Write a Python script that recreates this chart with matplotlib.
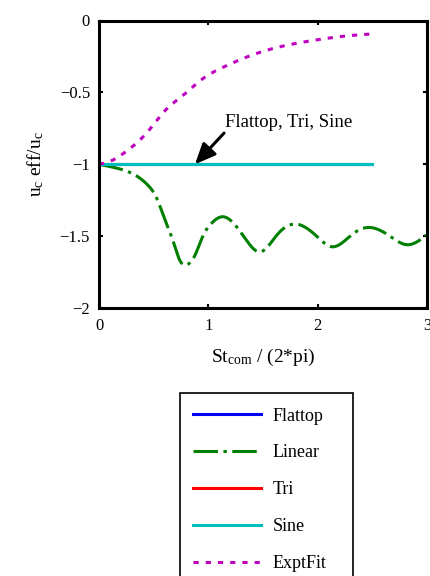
import matplotlib
matplotlib.use('Agg')
import matplotlib.pyplot as plt
from matplotlib.patches import Rectangle
import numpy as np

plt.rcParams['font.family'] = ['Liberation Serif', 'DejaVu Serif']
plt.rcParams['mathtext.fontset'] = 'custom'
plt.rcParams['mathtext.rm'] = 'Liberation Serif'
plt.rcParams['mathtext.it'] = 'Liberation Serif:italic'

# effective velocity ratio vs. reduced frequency
x_flat = [0.0, 2.5]
flattop = [-1.0, -1.0]
tri = [-1.0, -1.0]
sine = [-1.0, -1.0]

x_lin = [0.0, 0.146, 0.33, 0.44, 0.53, 0.60, 0.68, 0.74, 0.80, 0.88, 0.95, 1.03,
         1.13, 1.23, 1.35, 1.47, 1.63, 1.79, 1.99, 2.13, 2.33, 2.48, 2.66, 2.82, 3.0]
linear = [-1.0, -1.024, -1.075, -1.14, -1.24, -1.38, -1.54, -1.67, -1.70, -1.63, -1.50, -1.41,
          -1.365, -1.41, -1.53, -1.61, -1.49, -1.416, -1.50, -1.574, -1.48, -1.44, -1.50, -1.56, -1.49]

x_fit = [0.0, 0.10, 0.25, 0.45, 0.60, 0.77, 0.94, 1.15, 1.40, 1.67, 1.98, 2.28, 2.49]
exptfit = [-1.0, -0.98, -0.91, -0.77, -0.63, -0.52, -0.41, -0.32, -0.24, -0.18, -0.136, -0.106, -0.094]

xticks = [0, 1, 2, 3]
yticks = [-2, -1.5, -1, -0.5, 0]
ytick_labels = ['\u22122', '\u22121.5', '\u22121', '\u22120.5', '0']


def spline(xs, ys, n=500):
    # natural cubic spline through the points
    xs = np.asarray(xs, float)
    ys = np.asarray(ys, float)
    m = len(xs)
    h = np.diff(xs)
    A = np.zeros((m, m))
    r = np.zeros(m)
    A[0, 0] = A[-1, -1] = 1.0
    for i in range(1, m - 1):
        A[i, i - 1] = h[i - 1]
        A[i, i] = 2 * (h[i - 1] + h[i])
        A[i, i + 1] = h[i]
        r[i] = 6 * ((ys[i + 1] - ys[i]) / h[i] - (ys[i] - ys[i - 1]) / h[i - 1])
    M = np.linalg.solve(A, r)
    xx = np.linspace(xs[0], xs[-1], n)
    k = np.clip(np.searchsorted(xs, xx) - 1, 0, m - 2)
    a = xs[k + 1] - xx
    b = xx - xs[k]
    hk = h[k]
    yy = (M[k] * a ** 3 + M[k + 1] * b ** 3) / (6 * hk) \
        + (ys[k] / hk - M[k] * hk / 6) * a + (ys[k + 1] / hk - M[k + 1] * hk / 6) * b
    return xx, yy


fig = plt.figure(figsize=(4.3, 5.76), dpi=100)
ax = fig.add_axes([99 / 430, 1 - 308 / 576, 328 / 430, 287.5 / 576])

lx, ly = spline(x_lin, linear)
fx, fy = spline(x_fit, exptfit)

lw = 2.2
ax.plot(x_flat, flattop, color='#0000ff', lw=lw, label='Flattop')
ax.plot(lx, ly, color='#008000', lw=lw, dashes=(8, 1.8, 1.1, 1.8), label='Linear')
ax.plot(x_flat, tri, color='#ff0000', lw=lw, label='Tri')
ax.plot(x_flat, sine, color='#00bfbf', lw=lw, label='Sine')
ax.plot(fx, fy, color='#bf00bf', lw=lw, dashes=(1.7, 2.3), label='ExptFit')

ax.text(1.153, -0.743, 'Flattop, Tri, Sine', fontsize=13.5, ha='left', va='baseline')
ax.annotate('', xy=(0.878, -1.0), xytext=(1.144, -0.783),
            arrowprops=dict(arrowstyle='-|>,head_length=1.25,head_width=0.55',
                            color='black', lw=2.2, shrinkA=0, shrinkB=0))

ax.set_xlim(0, 3)
ax.set_ylim(-2, 0)
ax.set_xticks(xticks)
ax.set_yticks(yticks)
ax.set_yticklabels(ytick_labels)
ax.tick_params(direction='in', length=3, width=1.5, top=True, right=True, labelsize=12)
ax.tick_params(axis='x', pad=7.5)
ax.tick_params(axis='y', pad=6.5)
for s in ax.spines.values():
    s.set_linewidth(2.2)

ax.set_xlabel(r'St$_{\rm com}$ / (2*pi)', fontsize=14, labelpad=9)
ax.set_ylabel(r'u$_{\rm c}$ eff/u$_{\rm c}$', fontsize=14, labelpad=10)

leg = fig.legend(loc='upper left', bbox_to_anchor=(184 / 430, 1 - 398.5 / 576),
                 borderaxespad=0, fontsize=13, handlelength=3.75, handletextpad=0.67,
                 labelspacing=1.1, borderpad=0.5, frameon=False)
# legend box with a wider right margin
fig.patches.append(Rectangle((180 / 430, -0.05), 173 / 430, 0.05 + 1 - 393 / 576,
                             transform=fig.transFigure, fill=False, edgecolor='black',
                             lw=1.2, zorder=5))

fig.savefig('out.png', dpi=100)
